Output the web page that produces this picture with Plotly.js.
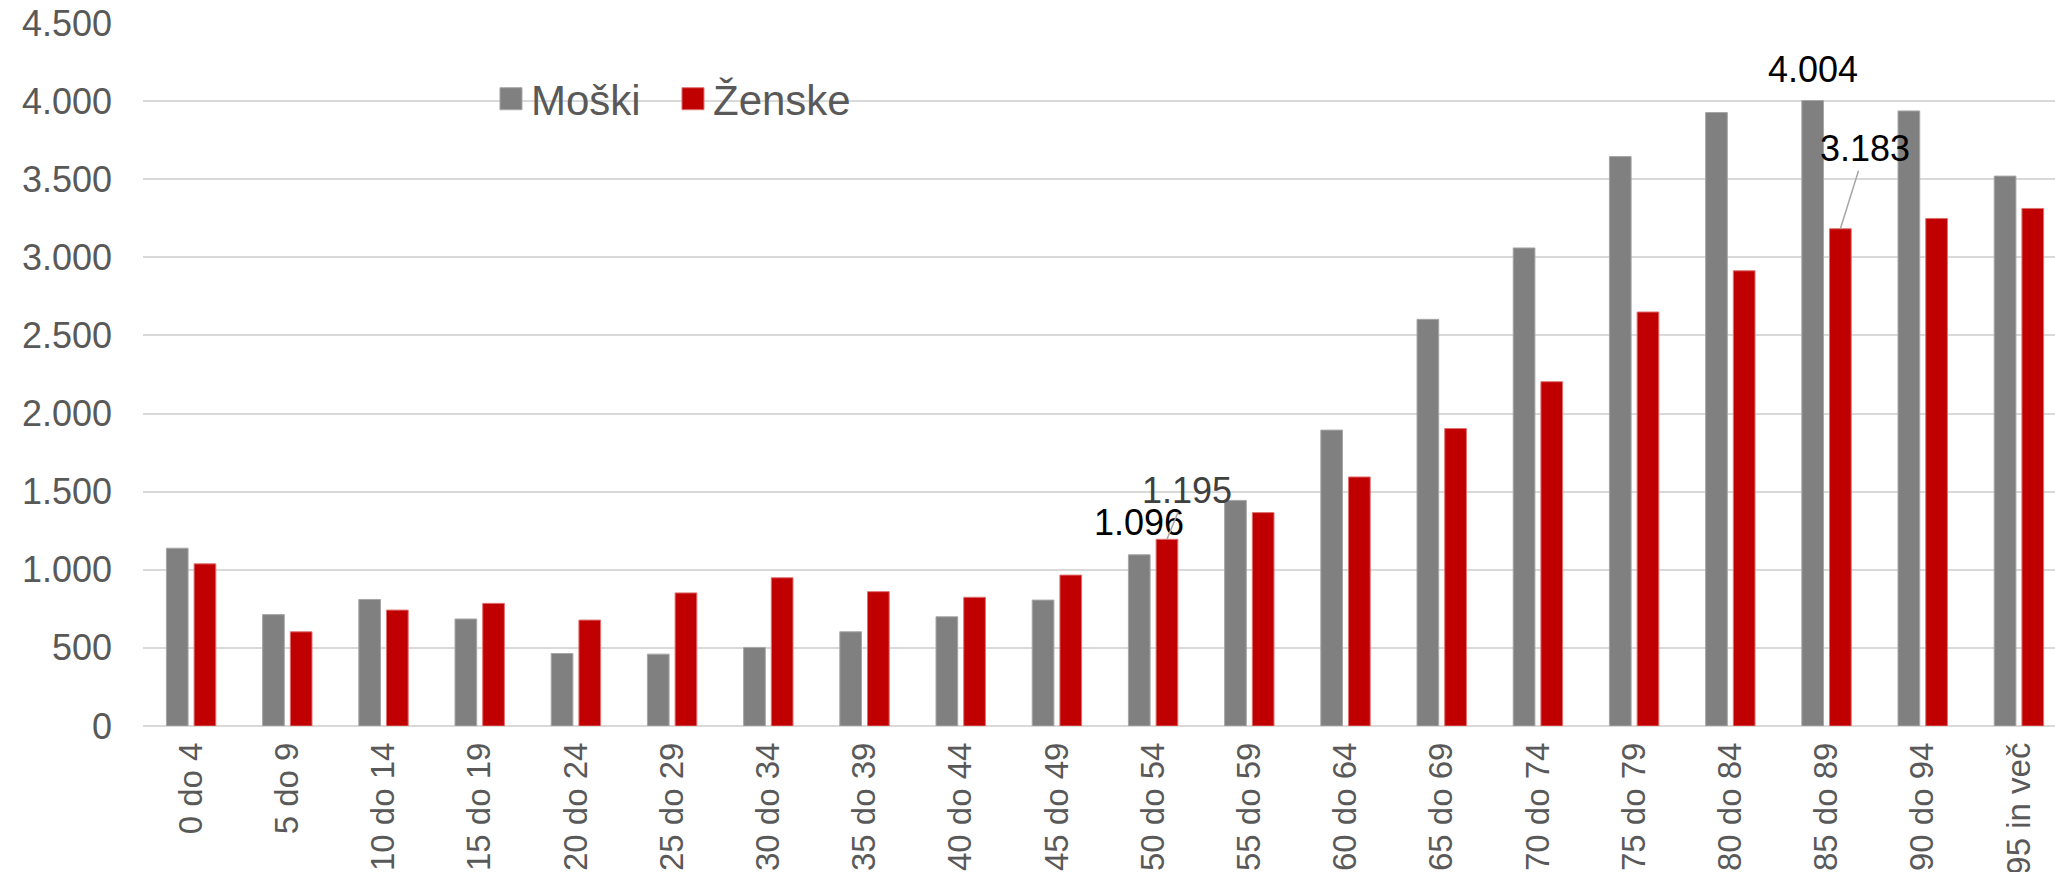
<!DOCTYPE html>
<html>
<head>
<meta charset="utf-8">
<script src="https://cdn.plot.ly/plotly-3.0.1.min.js"></script>
<style>
  html, body { margin: 0; padding: 0; background: #fff; overflow: hidden; }
  #chart { width: 2055px; height: 872px; }
</style>
</head>
<body>
<div id="chart"></div>
<script>
// age groups and values
var ageGroups = ["0 do 4", "5 do 9", "10 do 14", "15 do 19", "20 do 24", "25 do 29",
    "30 do 34", "35 do 39", "40 do 44", "45 do 49", "50 do 54", "55 do 59",
    "60 do 64", "65 do 69", "70 do 74", "75 do 79", "80 do 84", "85 do 89",
    "90 do 94", "95 in več"];
var moski = [1138, 713, 810, 685, 464, 460, 503, 603, 699, 806,
    1096, 1444, 1894, 2603, 3060, 3645, 3927, 4004, 3937, 3520];
var zenske = [1038, 603, 742, 785, 678, 852, 949, 860, 824, 966,
    1195, 1366, 1594, 1904, 2204, 2650, 2914, 3183, 3249, 3313];
var yTicks = [0, 500, 1000, 1500, 2000, 2500, 3000, 3500, 4000, 4500];

var font = "Liberation Sans, Arial, sans-serif";
var textGrey = "#595959";
var barShift = 0.144; // half the distance between bars of a group, in category units

function fmt(v) {
    return String(v).replace(/\B(?=(\d{3})+(?!\d))/g, ".");
}

function valueLabel(series, i, shift, extra) {
    var a = {
        x: i + shift,
        y: series[i],
        xref: "x", yref: "y",
        text: fmt(series[i]),
        showarrow: false,
        font: {family: font, size: 36, color: "#000000"}
    };
    for (var k in extra) a[k] = extra[k];
    return a;
}

var traceM = {
    x: ageGroups,
    y: moski,
    name: "Moški",
    type: "bar",
    marker: {color: "#808080", line: {color: "#a6a6a6", width: 1}},
    hoverinfo: "skip"
};
var traceZ = {
    x: ageGroups,
    y: zenske,
    name: "Ženske",
    type: "bar",
    marker: {color: "#c00000", line: {color: "#e07070", width: 1}},
    hoverinfo: "skip"
};

var leader = {showarrow: true, arrowhead: 0, arrowwidth: 1.5, arrowcolor: "#a6a6a6", standoff: 0};

var annotations = [
    valueLabel(moski, 10, -barShift, {yshift: 32}),
    valueLabel(zenske, 10, barShift, Object.assign({ax: 20, ay: -49, font: {family: font, size: 36, color: "#404040"}}, leader)),
    valueLabel(moski, 17, -barShift, {yshift: 31}),
    valueLabel(zenske, 17, barShift, Object.assign({ax: 25, ay: -80}, leader))
];

var layout = {
    width: 2055,
    height: 872,
    margin: {l: 143, r: 0, t: 23, b: 146, pad: 0},
    paper_bgcolor: "#ffffff",
    plot_bgcolor: "#ffffff",
    separators: ",.",
    barmode: "group",
    bargap: 0.424,
    bargroupgap: 0.217,
    font: {family: font, color: textGrey},
    showlegend: true,
    legend: {
        orientation: "h",
        x: 0.182, y: 0.892,
        xanchor: "left", yanchor: "middle",
        entrywidth: 137, entrywidthmode: "pixels",
        font: {family: font, size: 42, color: textGrey},
        bgcolor: "rgba(0,0,0,0)",
        traceorder: "normal"
    },
    xaxis: {
        type: "category",
        range: [-0.5, 19.375],
        tickangle: -90,
        tickfont: {family: font, size: 33, color: textGrey},
        ticks: "",
        ticklabelstandoff: 9,
        showgrid: false,
        showline: false,
        zeroline: false,
        fixedrange: true
    },
    yaxis: {
        range: [0, 4500],
        tickvals: yTicks,
        tickformat: ",d",
        tickfont: {family: font, size: 36, color: textGrey},
        ticks: "",
        ticklabelstandoff: 30,
        showgrid: true,
        gridcolor: "#d9d9d9",
        gridwidth: 2,
        zeroline: true,
        zerolinecolor: "#d9d9d9",
        zerolinewidth: 2,
        showline: false,
        fixedrange: true
    },
    annotations: annotations
};

Plotly.newPlot("chart", [traceM, traceZ], layout, {displayModeBar: false, staticPlot: true}).then(function () {
    // bigger legend squares, as in the original
    document.querySelectorAll(".legendpoints path").forEach(function (p) {
        p.setAttribute("d", "M11,11H-11V-11H11Z");
    });
});
</script>
</body>
</html>
